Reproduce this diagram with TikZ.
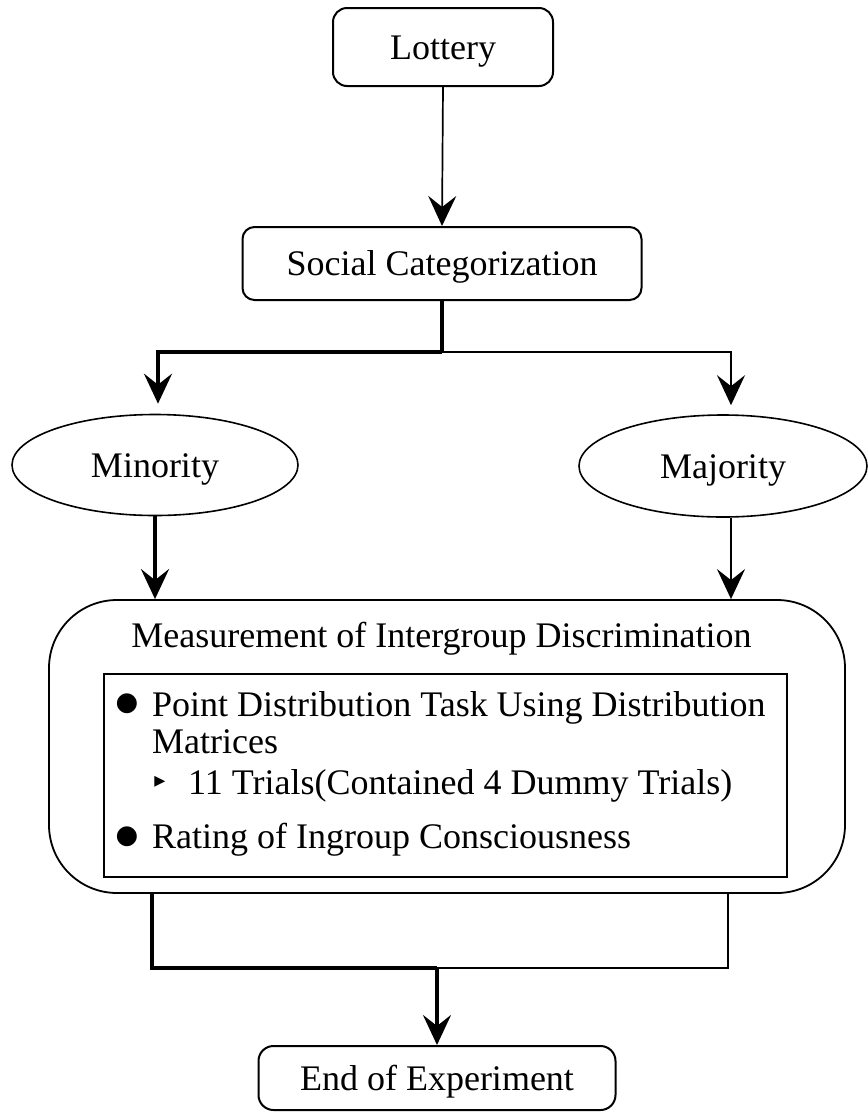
\documentclass[tikz,border=0pt]{standalone}
\usepackage{fontspec}
\setmainfont{Liberation Serif}
\newfontfamily\symfont{DejaVu Sans}
\usetikzlibrary{arrows.meta,shapes.geometric,calc}
\begin{document}
\begin{tikzpicture}[x=1pt,y=-1pt,
  font=\fontsize{36}{42}\selectfont,
  arrowed/.style={-{Stealth[length=30pt,width=28pt,inset=11pt]}},
  roundbox/.style={draw,line width=2pt,rounded corners=14pt,text height=24pt,text depth=0pt,inner sep=0pt},
  oval/.style={draw,ellipse,line width=1.6pt,inner sep=0pt,text height=24pt,text depth=0pt},
  plaintext/.style={inner sep=0pt},
  symb/.style={inner sep=0pt,font=\symfont\fontsize{26}{26}\selectfont},
  thinconn/.style={line width=1.7pt},
  midconn/.style={line width=2.2pt},
  thickconn/.style={line width=3.6pt}]
\fill[white] (0,0) rectangle (868,1112);
\useasboundingbox (0,0) rectangle (868,1112);

\node[roundbox,minimum width=220pt,minimum height=78pt] (lottery) at (443,47) {Lottery};
\node[roundbox,rounded corners=12pt,minimum width=399pt,minimum height=73pt] (sc) at (442,263.5) {Social Categorization};
\node[oval,minimum width=286pt,minimum height=101pt] (minority) at (155,465) {Minority};
\node[oval,minimum width=288pt,minimum height=102pt] (majority) at (723,466) {Majority};

\node[draw,line width=1.8pt,rounded corners=68pt,minimum width=796pt,minimum height=293pt,inner sep=0pt] (meas) at (447,746.5) {};
\node[plaintext,anchor=base] (meastitle) at (441.5,647) {Measurement of Intergroup Discrimination};
\node[draw,line width=1.5pt,minimum width=683pt,minimum height=203pt,inner sep=0pt] (tasks) at (445.5,775.5) {};
\node[symb] (b1) at (127,704) {●};
\node[plaintext,anchor=base west] (t1) at (152,716) {Point Distribution Task Using Distribution};
\node[plaintext,anchor=base west] (t2) at (152,753) {Matrices};
\node[symb,font=\symfont\fontsize{22}{22}\selectfont] (tri) at (160,782) {▸};
\node[plaintext,anchor=base west] (t3) at (188,794) {11 Trials(Contained 4 Dummy Trials)};
\node[symb] (b2) at (127,837) {●};
\node[plaintext,anchor=base west] (t4) at (152,848) {Rating of Ingroup Consciousness};

\node[roundbox,rounded corners=15pt,minimum width=357pt,minimum height=64pt] (endexp) at (437,1078) {End of Experiment};

% connectors
\draw[arrowed,thinconn] (lottery.south) -- (sc.north);
\coordinate (split) at (442,352);
\draw[thickconn] (sc.south) -- (split);
\coordinate (minin) at ([xshift=3pt]minority.north);
\coordinate (majtop) at ([xshift=8pt]majority.north);
\draw[arrowed,thickconn,shorten >=10pt] (split) -| (minin);
\draw[arrowed,midconn,shorten >=9pt] (split) -| (majtop);
\draw[arrowed,thickconn] (minority.south) -- (minority.south |- meas.north);
\coordinate (majin) at ([xshift=8pt]majority.south);
\draw[arrowed,midconn] (majin) -- (majin |- meas.north);
\coordinate (join) at (437,968);
\coordinate (lout) at ([xshift=-295pt]meas.south);
\coordinate (rout) at ([xshift=281pt]meas.south);
\draw[thickconn] (lout) |- (join);
\draw[midconn] (rout) |- (join);
\draw[arrowed,thickconn] (join) -- (endexp.north);
\end{tikzpicture}
\end{document}
